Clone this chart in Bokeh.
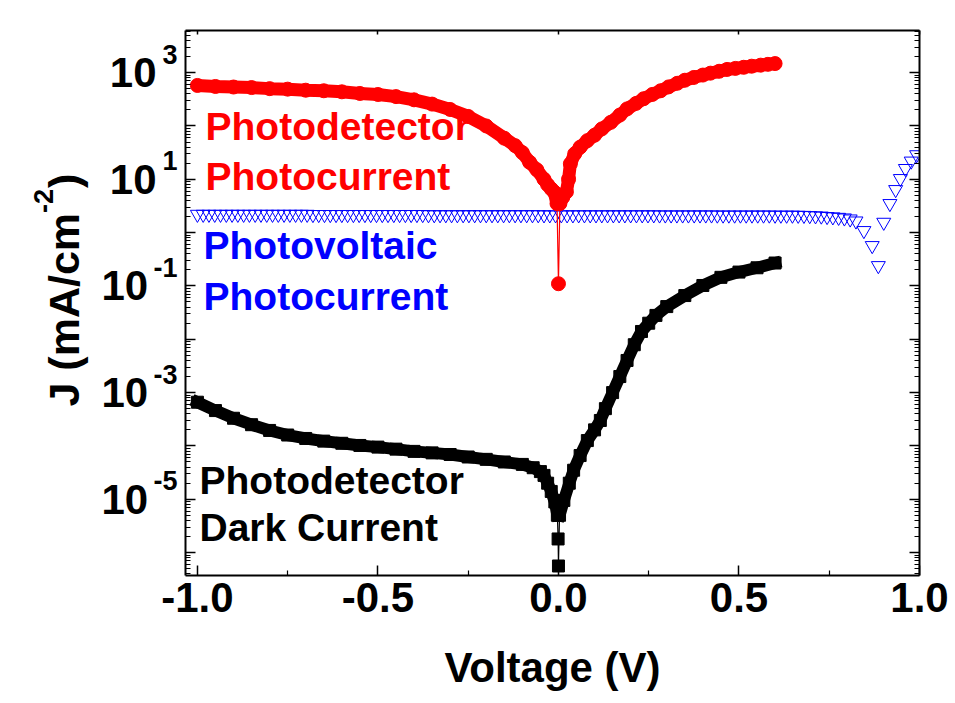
import numpy as np
from bokeh.plotting import figure
from bokeh.layouts import row
from bokeh.models import (Range1d, FixedTicker, LinearAxis, LogAxis, Label,
                          CustomJSTickFormatter)
from bokeh.core.properties import value
from bokeh.embed import file_html
from bokeh.resources import INLINE

# ---------------- data ----------------
# Photodetector photocurrent (red circles)
pd_v = [-1.00, -0.95, -0.90, -0.85, -0.80, -0.75, -0.70, -0.65, -0.60, -0.55,
        -0.50, -0.45, -0.40, -0.35, -0.30, -0.25, -0.20, -0.15, -0.12, -0.10,
        -0.08, -0.06, -0.04, -0.03, -0.02, -0.012, -0.004, 0.0, 0.004, 0.012,
        0.022, 0.028, 0.033, 0.045, 0.06, 0.08, 0.10, 0.12, 0.145, 0.17,
        0.19, 0.215, 0.236, 0.26, 0.283, 0.305, 0.329, 0.35, 0.375, 0.40,
        0.421, 0.445, 0.467, 0.49, 0.513, 0.535, 0.56, 0.58, 0.60]
pd_j = [575, 550, 537, 525, 501, 490, 468, 457, 437, 407,
        389, 355, 309, 257, 204, 151, 100, 58.9, 42.7, 31.6,
        20.9, 15.1, 10.0, 7.9, 6.6, 5.8, 3.5, 0.11, 3.5, 4.6,
        5.8, 10.0, 19.5, 30, 40, 53, 67, 88, 117, 160,
        209, 265, 324, 390, 457, 540, 631, 720, 813, 900,
        977, 1060, 1148, 1200, 1259, 1320, 1380, 1430, 1479]

# Photodetector dark current (black squares)
dk_v = [-1.00, -0.95, -0.90, -0.85, -0.80, -0.75, -0.70, -0.65, -0.60, -0.55,
        -0.50, -0.45, -0.40, -0.35, -0.30, -0.25, -0.20, -0.15, -0.10, -0.07,
        -0.05, -0.04, -0.03, -0.02, -0.01, -0.003, -0.001, 0.0, 0.003, 0.015,
        0.03, 0.042, 0.06, 0.08, 0.10, 0.116, 0.13, 0.15, 0.17, 0.19,
        0.21, 0.23, 0.25, 0.27, 0.30, 0.35, 0.40, 0.45, 0.50, 0.55, 0.60]
dk_j = [6.6e-4, 4.6e-4, 3.3e-4, 2.5e-4, 1.95e-4, 1.6e-4, 1.38e-4, 1.23e-4, 1.12e-4, 1.02e-4,
        9.5e-5, 8.7e-5, 7.9e-5, 7.4e-5, 6.9e-5, 6.2e-5, 5.6e-5, 5.0e-5, 4.5e-5, 3.9e-5,
        3.3e-5, 2.8e-5, 2.0e-5, 1.4e-5, 8.9e-6, 5.0e-6, 1.8e-6, 5.6e-7, 5.0e-6, 9.5e-6,
        2.0e-5, 3.5e-5, 6.6e-5, 1.26e-4, 2.0e-4, 3.0e-4, 5.0e-4, 1.0e-3, 2.0e-3, 4.0e-3,
        7.9e-3, 1.4e-2, 2.0e-2, 2.8e-2, 4.1e-2, 6.6e-2, 0.102, 0.145, 0.182, 0.219, 0.269]

# Photovoltaic photocurrent (blue open triangles)
pv_v = [-1.000, -0.984, -0.968, -0.952, -0.936, -0.920, -0.904, -0.888, -0.872, -0.856,
        -0.840, -0.824, -0.808, -0.792, -0.776, -0.760, -0.744, -0.728, -0.712, -0.696,
        -0.680, -0.664, -0.648, -0.632, -0.616, -0.600, -0.584, -0.568, -0.552, -0.536,
        -0.520, -0.504, -0.488, -0.472, -0.456, -0.440, -0.424, -0.408, -0.392, -0.376,
        -0.360, -0.344, -0.328, -0.312, -0.296, -0.280, -0.264, -0.248, -0.232, -0.216,
        -0.200, -0.184, -0.168, -0.152, -0.136, -0.120, -0.104, -0.088, -0.072, -0.056,
        -0.040, -0.024, -0.008, 0.008, 0.024, 0.040, 0.056, 0.072, 0.088, 0.104,
        0.120, 0.136, 0.152, 0.168, 0.184, 0.200, 0.216, 0.232, 0.248, 0.264,
        0.280, 0.296, 0.312, 0.328, 0.344, 0.360, 0.376, 0.392, 0.408, 0.424,
        0.440, 0.456, 0.472, 0.488, 0.504, 0.520, 0.536, 0.552, 0.568, 0.584,
        0.600, 0.616, 0.632, 0.648, 0.664, 0.680, 0.696, 0.712, 0.728, 0.744,
        0.760, 0.776, 0.792, 0.808, 0.824,
        0.846, 0.869, 0.886, 0.901, 0.918, 0.934, 0.947, 0.961, 0.977, 0.992]
pv_j = [2.20, 2.20, 2.20, 2.20, 2.20, 2.20, 2.20, 2.20, 2.20, 2.20,
        2.20, 2.20, 2.20, 2.20, 2.20, 2.20, 2.20, 2.20, 2.20, 2.20,
        2.18, 2.18, 2.18, 2.18, 2.18, 2.18, 2.18, 2.18, 2.18, 2.18,
        2.18, 2.18, 2.18, 2.18, 2.18, 2.18, 2.18, 2.18, 2.18, 2.18,
        2.16, 2.16, 2.16, 2.16, 2.16, 2.16, 2.16, 2.16, 2.16, 2.16,
        2.16, 2.16, 2.16, 2.16, 2.16, 2.16, 2.16, 2.16, 2.16, 2.16,
        2.15, 2.15, 2.15, 2.15, 2.15, 2.15, 2.15, 2.15, 2.15, 2.15,
        2.15, 2.15, 2.15, 2.15, 2.15, 2.15, 2.15, 2.15, 2.15, 2.15,
        2.14, 2.14, 2.14, 2.14, 2.14, 2.14, 2.14, 2.14, 2.14, 2.14,
        2.13, 2.13, 2.13, 2.13, 2.13, 2.13, 2.13, 2.13, 2.13, 2.13,
        2.12, 2.12, 2.12, 2.12, 2.11, 2.10, 2.08, 2.06, 2.04, 2.00,
        1.97, 1.93, 1.88, 1.80, 1.65,
        1.09, 0.57, 0.24, 1.56, 3.5, 6.4, 10.3, 15.9, 21.9, 28.8]

x_ticks = [-1.0, -0.5, 0.0, 0.5, 1.0]
x_minor = [-0.75, -0.25, 0.25, 0.75]
y_label_exps = [3, 1, -1, -3, -5]
y_label_base = "10"
y_title = ["J (mA/cm", "-2", ")"]

# ---------------- layout ----------------
FONT = "Liberation Sans"
FL, FR, FT, FB = 185, 919, 30, 575          # frame edges on the page (px)
X0, X1 = -1.033, 1.0
LY0, LY1 = -6.43, 3.79
TOTAL_W, H = 955, 700
LW = 91                                      # width of the strip holding the y title
MW = TOTAL_W - LW
BL = 0.40                                    # baseline correction (fraction of font size)


def vx(px):
    return X0 + (px - FL) / (FR - FL) * (X1 - X0)


def jy(py):
    return 10 ** (LY1 - (py - FT) / (FB - FT) * (LY1 - LY0))


p = figure(width=MW, height=H, x_range=Range1d(X0, X1),
           y_range=Range1d(10 ** LY0, 10 ** LY1), y_axis_type="log",
           output_backend="svg", toolbar_location=None,
           min_border_left=FL - LW, min_border_right=TOTAL_W - FR,
           min_border_top=FT, min_border_bottom=H - FB)
p.xgrid.visible = False
p.ygrid.visible = False
p.outline_line_color = None

y_major = [10.0 ** k for k in range(-6, 4)]
y_minor = [m * 10.0 ** k for k in range(-7, 4) for m in range(2, 10)]
blank = CustomJSTickFormatter(code="return ''")


def style_axis(ax):
    ax.axis_line_width = 2
    ax.axis_line_color = "black"
    ax.major_tick_in = 10
    ax.major_tick_out = 0
    ax.minor_tick_in = 5
    ax.minor_tick_out = 0
    ax.major_tick_line_width = 1.5
    ax.minor_tick_line_width = 1.2
    ax.major_tick_line_color = "black"
    ax.minor_tick_line_color = "black"


xa = p.xaxis[0]
xa.ticker = FixedTicker(ticks=x_ticks, minor_ticks=x_minor)
xa.formatter = CustomJSTickFormatter(code="return tick.toFixed(1)")
style_axis(xa)
xa.major_label_text_font = FONT
xa.major_label_text_font_style = "bold"
xa.major_label_text_font_size = "42px"
xa.major_label_text_color = "black"
xa.major_label_standoff = 7
xa.axis_label = "Voltage (V)"
xa.axis_label_text_font = FONT
xa.axis_label_text_font_style = "bold"
xa.axis_label_text_font_size = "42px"
xa.axis_label_text_color = "black"
xa.axis_label_standoff = 29

# inner left axis: ticks + exponents (raised with a trailing empty line)
ya = p.yaxis[0]
ya.ticker = FixedTicker(ticks=y_major, minor_ticks=y_minor)
ya.formatter = CustomJSTickFormatter(args=dict(exps=y_label_exps), code="""
    const e = Math.round(Math.log10(tick));
    return exps.includes(e) ? (String(e) + "\\n") : "";
""")
style_axis(ya)
ya.major_label_text_font = FONT
ya.major_label_text_font_style = "bold"
ya.major_label_text_font_size = "27px"
ya.major_label_text_color = "black"
ya.major_label_standoff = 8

# outer left axis: the "10" of each label
ya10 = LogAxis(ticker=FixedTicker(ticks=y_major, minor_ticks=[]),
               formatter=CustomJSTickFormatter(args=dict(exps=y_label_exps, base=y_label_base), code="""
    const e = Math.round(Math.log10(tick));
    if (!exps.includes(e)) return "";
    return e < 0 ? base + "\\u2009" : base;
"""))
ya10.axis_line_color = None
ya10.major_tick_line_color = None
ya10.minor_tick_line_color = None
ya10.major_tick_in = 0
ya10.major_tick_out = 0
ya10.minor_tick_in = 0
ya10.minor_tick_out = 0
ya10.major_label_standoff = -6
ya10.major_label_text_font = FONT
ya10.major_label_text_font_style = "bold"
ya10.major_label_text_font_size = "42px"
ya10.major_label_text_color = "black"
p.add_layout(ya10, "left")

top = LinearAxis(ticker=FixedTicker(ticks=x_ticks, minor_ticks=x_minor), formatter=blank)
style_axis(top)
top.major_tick_in = 4
top.minor_tick_in = 0
top.major_label_standoff = 0
p.add_layout(top, "above")
right = LogAxis(ticker=FixedTicker(ticks=y_major, minor_ticks=y_minor), formatter=blank)
style_axis(right)
right.major_label_standoff = 0
p.add_layout(right, "right")

# ---------------- data glyphs ----------------
p.scatter(pv_v, pv_j, marker="inverted_triangle", size=14, fill_color=None,
          line_color="#0000FF", line_width=1)

pdv = np.array(pd_v); pdj = np.array(pd_j)
p.line(pdv, pdj, line_color="#FF0000", line_width=1.2)
for m in (pdv <= -0.004, pdv >= 0.004):
    p.line(pdv[m], pdj[m], line_color="#FF0000", line_width=13,
           line_join="round", line_cap="round")
p.scatter(pdv, pdj, marker="circle", size=14, fill_color="#FF0000", line_color="#FF0000")

dkv = np.array(dk_v); dkj = np.array(dk_j)
p.line(dkv, dkj, line_color="black", line_width=1.2)
for m in (dkv <= -0.003, dkv >= 0.003):
    p.line(dkv[m], dkj[m], line_color="black", line_width=12,
           line_join="round", line_cap="square")
p.scatter(dkv, dkj, marker="square", size=12, fill_color="black", line_color="black")


# ---------------- in-plot texts ----------------
def add_text(txt, px, py, size, color="black"):
    p.add_layout(Label(x=vx(px), y=jy(py - BL * size), text=txt, text_font=FONT,
                       text_font_style="bold", text_font_size=f"{size}px",
                       text_color=color, text_align="left",
                       text_baseline="alphabetic"))


add_text("Photodetector", 205, 142, 39, "#FF0000")
add_text("Photocurrent", 205, 192, 39, "#FF0000")
add_text("Photovoltaic", 203, 261, 39, "#0000FF")
add_text("Photocurrent", 203, 312, 39, "#0000FF")
add_text("Photodetector", 199, 496, 39)
add_text("Dark Current", 199, 543, 39)

# ---------------- left strip: y title ----------------
lf = figure(width=LW, height=H, x_range=Range1d(0, LW), y_range=p.y_range,
            y_axis_type="log", x_axis_location=None, y_axis_location=None,
            output_backend="svg", toolbar_location=None,
            min_border_left=0, min_border_right=0,
            min_border_top=FT, min_border_bottom=H - FB)
lf.grid.visible = False
lf.outline_line_color = None

TITLE_SIZE = 43
SUP_SIZE = 27
TITLE_BASE_X = 81
SUP_BASE_X = 54
ang = np.pi / 2
w_main = 4.501 * TITLE_SIZE
w_sup = 0.889 * SUP_SIZE
lf.text(x=[TITLE_BASE_X - BL * TITLE_SIZE], y=[jy(406)], text=[y_title[0]], angle=ang,
        text_font=value(FONT), text_font_style="bold",
        text_font_size=f"{TITLE_SIZE}px", text_color="black",
        text_align="left", text_baseline="alphabetic")
lf.text(x=[SUP_BASE_X - BL * SUP_SIZE], y=[jy(406 - w_main)], text=[y_title[1]], angle=ang,
        text_font=value(FONT), text_font_style="bold",
        text_font_size=f"{SUP_SIZE}px", text_color="black",
        text_align="left", text_baseline="alphabetic")
lf.text(x=[TITLE_BASE_X - BL * TITLE_SIZE], y=[jy(406 - w_main - w_sup - 1)],
        text=[y_title[2]], angle=ang, text_font=value(FONT), text_font_style="bold",
        text_font_size=f"{TITLE_SIZE}px", text_color="black",
        text_align="left", text_baseline="alphabetic")

layout = row(lf, p)
open("out.html", "w").write(file_html(layout, INLINE))
